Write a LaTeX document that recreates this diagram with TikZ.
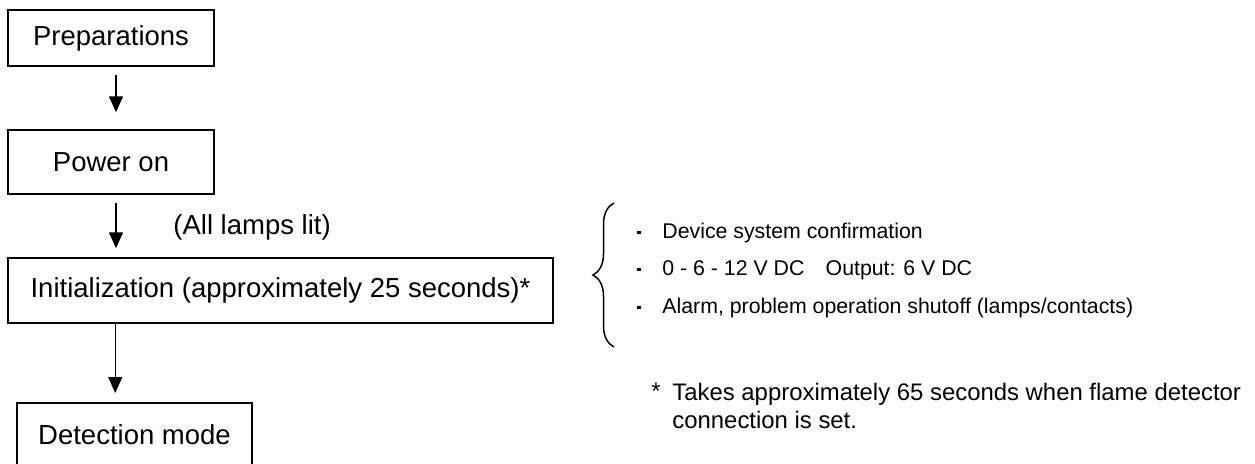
\documentclass[tikz,border=0pt]{standalone}
\usepackage{fontspec}
\setmainfont{Liberation Sans}
\usetikzlibrary{arrows.meta,decorations.pathreplacing,calc}
\tikzset{
  box/.style={draw, line width=0.75pt, inner sep=0pt, font=\fontsize{13.75}{16}\selectfont},
  arr/.style={line width=0.75pt, -{Triangle[width=7pt,length=8pt]}},
  lbl/.style={inner sep=0pt, font=\fontsize{13.75}{16}\selectfont},
  bul/.style={inner sep=0pt, anchor=west, font=\fontsize{10.65}{12}\selectfont},
  note/.style={inner sep=0pt, font=\fontsize{11.95}{14}\selectfont}
}
\newcommand{\sqbul}{\makebox[12.5pt][l]{\raisebox{2.2pt}{\rule{1.6pt}{1.6pt}}}}
\begin{document}
\begin{tikzpicture}[x=0.5pt,y=-0.5pt]
\useasboundingbox (0,0) rectangle (1255,463);
\clip (0,0) rectangle (1255,463);
\node[box, minimum width={206*0.5pt}, minimum height={56*0.5pt}] (prep) at (111,38) {Preparations};
\node[box, minimum width={206*0.5pt}, minimum height={64*0.5pt}] (power) at (111,162) {Power on};
\node[box, minimum width={545*0.5pt}, minimum height={65*0.5pt}] (init) at (280.5,290.5) {Initialization (approximately 25 seconds)*};
\node[box, minimum width={235*0.5pt}, minimum height={64*0.5pt}, anchor=north] (det) at (134.5,402) {Detection mode};
\coordinate (a1s) at ($(prep.south)+(5,0)$);
\coordinate (a2s) at ($(power.south)+(5,0)$);
\coordinate (a3s) at ($(init.south west)+(108,0)$);
\draw[arr, shorten <=4pt, shorten >=8.5pt] (a1s) -- (a1s |- power.north);
\draw[arr, shorten <=4pt, shorten >=4.5pt] (a2s) -- (a2s |- init.north);
\draw[arr, shorten >=4.5pt] (a3s) -- (a3s |- det.north);
\node[lbl, anchor=west] (lamps) at (173,227) {(All lamps lit)};
\draw[line width=0.75pt, decorate, decoration={brace, amplitude=10.5pt}] (614,347) -- (614,203);
\node[bul] (b1) at (637,233) {\sqbul Device system confirmation};
\node[bul] (b2) at (637,270) {\sqbul 0 - 6 - 12 V DC\hspace{1em}Output: 6 V DC};
\node[bul] (b3) at (637,308) {\sqbul Alarm, problem operation shutoff (lamps/contacts)};
\node[note, anchor=north west] (star) at (651,383) {*};
\node[note, anchor=north west, align=left] (foot) at (672,383) {Takes approximately 65 seconds when flame detector\\connection is set.};
\end{tikzpicture}
\end{document}
